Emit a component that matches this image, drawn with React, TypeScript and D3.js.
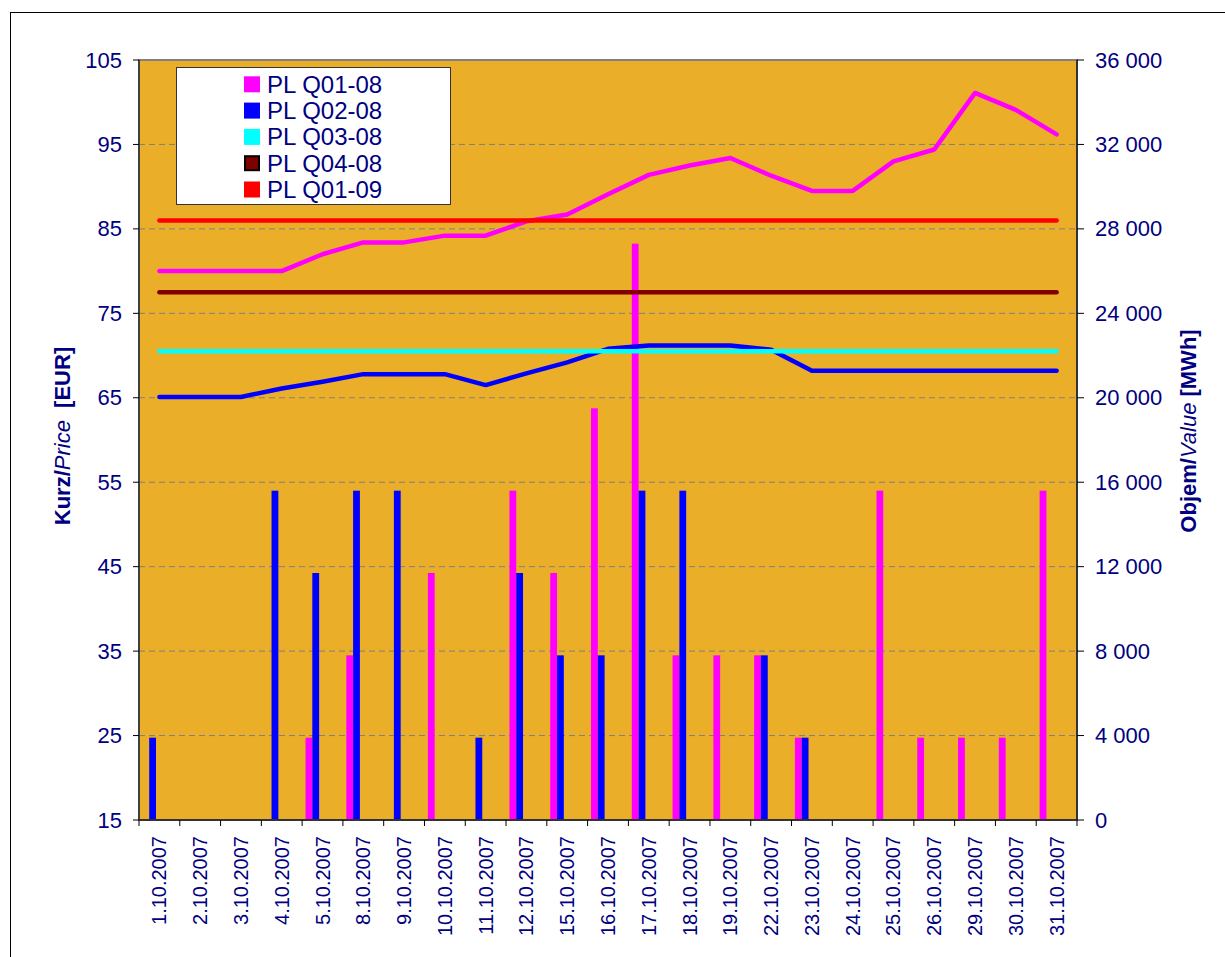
import React, { useRef, useEffect } from "react";
import * as d3 from "d3";

const dates = [
  "1.10.2007", "2.10.2007", "3.10.2007", "4.10.2007", "5.10.2007", "8.10.2007",
  "9.10.2007", "10.10.2007", "11.10.2007", "12.10.2007", "15.10.2007", "16.10.2007",
  "17.10.2007", "18.10.2007", "19.10.2007", "22.10.2007", "23.10.2007", "24.10.2007",
  "25.10.2007", "26.10.2007", "29.10.2007", "30.10.2007", "31.10.2007",
];

const seriesNames = ["PL Q01-08", "PL Q02-08", "PL Q03-08", "PL Q04-08", "PL Q01-09"];

// prices (EUR), left axis
const priceQ0108 = [80, 80, 80, 80, 82, 83.4, 83.4, 84.2, 84.2, 85.9, 86.7, 89.1, 91.4, 92.5, 93.4, 91.3, 89.5, 89.5, 93, 94.4, 101.1, 99.1, 96.2];
const priceQ0208 = [65.1, 65.1, 65.1, 66.1, 66.9, 67.8, 67.8, 67.8, 66.5, 67.9, 69.2, 70.8, 71.2, 71.2, 71.2, 70.7, 68.2, 68.2, 68.2, 68.2, 68.2, 68.2, 68.2];
const priceQ0308 = [70.5, 70.5, 70.5, 70.5, 70.5, 70.5, 70.5, 70.5, 70.5, 70.5, 70.5, 70.5, 70.5, 70.5, 70.5, 70.5, 70.5, 70.5, 70.5, 70.5, 70.5, 70.5, 70.5];
const priceQ0408 = [77.5, 77.5, 77.5, 77.5, 77.5, 77.5, 77.5, 77.5, 77.5, 77.5, 77.5, 77.5, 77.5, 77.5, 77.5, 77.5, 77.5, 77.5, 77.5, 77.5, 77.5, 77.5, 77.5];
const priceQ0109 = [86, 86, 86, 86, 86, 86, 86, 86, 86, 86, 86, 86, 86, 86, 86, 86, 86, 86, 86, 86, 86, 86, 86];

// volumes (MWh), right axis
const volumeQ0108 = [0, 0, 0, 0, 3900, 7800, 0, 11700, 0, 15600, 11700, 19500, 27300, 7800, 7800, 7800, 3900, 0, 15600, 3900, 3900, 3900, 15600];
const volumeQ0208 = [3900, 0, 0, 15600, 11700, 15600, 15600, 0, 3900, 11700, 7800, 7800, 15600, 15600, 0, 7800, 3900, 0, 0, 0, 0, 0, 0];

const leftTicks = [15, 25, 35, 45, 55, 65, 75, 85, 95, 105];
const rightTicks = [0, 4000, 8000, 12000, 16000, 20000, 24000, 28000, 32000, 36000];

const colors = ["#FF00FF", "#0000FF", "#00FFFF", "#800000", "#FF0000"];
const navy = "#000080";
const font = "Arial, 'Liberation Sans', sans-serif";

const App = () => {
  const svgRef = useRef(null);

  useEffect(() => {
    const svg = d3.select(svgRef.current);
    svg.selectAll("*").remove();

    const left = 139, right = 1077, top = 60, bottom = 820;

    const x = d3.scaleBand().domain(dates).range([left, right]).padding(0);
    const xSeries = d3
      .scaleBand()
      .domain(seriesNames)
      .range([0, x.bandwidth()])
      .paddingInner(0)
      .paddingOuter(0.5);
    const yL = d3.scaleLinear().domain([15, 105]).range([bottom, top]);
    const yR = d3.scaleLinear().domain([0, 36000]).range([bottom, top]);
    const fmt = d3.formatLocale({ decimal: ",", thousands: " ", grouping: [3], currency: ["", ""] }).format(",");

    // outer frame
    svg.append("rect")
      .attr("x", 10.5).attr("y", 12.5)
      .attr("width", 1240).attr("height", 980)
      .attr("fill", "#fff").attr("stroke", "#000").attr("stroke-width", 1);

    // plot area
    svg.append("rect")
      .attr("x", left).attr("y", top)
      .attr("width", right - left).attr("height", bottom - top)
      .attr("fill", "#EBAE29").attr("stroke", "#808080").attr("stroke-width", 2);

    // gridlines
    svg.append("g")
      .selectAll("line")
      .data(leftTicks.slice(1, -1))
      .join("line")
      .attr("x1", left).attr("x2", right)
      .attr("y1", (d) => yL(d)).attr("y2", (d) => yL(d))
      .attr("stroke", "#7f7f85").attr("stroke-width", 1)
      .attr("stroke-dasharray", "6,4");

    // bars
    const vols = [volumeQ0108, volumeQ0208];
    vols.forEach((vals, si) => {
      svg.append("g")
        .selectAll("rect")
        .data(vals.map((v, i) => ({ d: dates[i], v })).filter((p) => p.v > 0))
        .join("rect")
        .attr("x", (p) => x(p.d) + xSeries(seriesNames[si]))
        .attr("width", xSeries.bandwidth())
        .attr("y", (p) => yR(p.v))
        .attr("height", (p) => yR(0) - yR(p.v))
        .attr("fill", colors[si]);
    });

    // lines
    const prices = [priceQ0108, priceQ0208, priceQ0308, priceQ0408, priceQ0109];
    const line = d3
      .line()
      .x((d) => d[0])
      .y((d) => d[1]);
    prices.forEach((vals, si) => {
      svg.append("path")
        .attr("d", line(vals.map((v, i) => [x(dates[i]) + x.bandwidth() / 2, yL(v)])))
        .attr("fill", "none")
        .attr("stroke", colors[si])
        .attr("stroke-width", 4.5)
        .attr("stroke-linecap", "round")
        .attr("stroke-linejoin", "round");
    });

    // axes lines
    svg.append("line").attr("x1", left).attr("x2", left).attr("y1", top).attr("y2", bottom).attr("stroke", "#000");
    svg.append("line").attr("x1", right).attr("x2", right).attr("y1", top).attr("y2", bottom).attr("stroke", "#333").attr("stroke-width", 2);
    svg.append("line").attr("x1", left).attr("x2", right).attr("y1", bottom).attr("y2", bottom).attr("stroke", "#333").attr("stroke-width", 2);

    // left axis
    const gl = svg.append("g");
    gl.selectAll("line")
      .data(leftTicks)
      .join("line")
      .attr("x1", left - 6).attr("x2", left)
      .attr("y1", (d) => yL(d)).attr("y2", (d) => yL(d))
      .attr("stroke", "#000");
    gl.selectAll("text")
      .data(leftTicks)
      .join("text")
      .attr("x", 122).attr("y", (d) => yL(d))
      .attr("text-anchor", "end").attr("dominant-baseline", "central")
      .attr("font-family", font).attr("font-size", 22).attr("fill", navy)
      .text((d) => d);

    // right axis
    const gr = svg.append("g");
    gr.selectAll("line")
      .data(rightTicks)
      .join("line")
      .attr("x1", right).attr("x2", right + 7)
      .attr("y1", (d) => yR(d)).attr("y2", (d) => yR(d))
      .attr("stroke", "#000");
    gr.selectAll("text")
      .data(rightTicks)
      .join("text")
      .attr("x", 1095).attr("y", (d) => yR(d))
      .attr("dominant-baseline", "central")
      .attr("font-family", font).attr("font-size", 22).attr("fill", navy)
      .text((d) => fmt(d));

    // x axis
    const gx = svg.append("g");
    gx.selectAll("line")
      .data(d3.range(dates.length + 1))
      .join("line")
      .attr("x1", (i) => left + i * x.step()).attr("x2", (i) => left + i * x.step())
      .attr("y1", bottom).attr("y2", bottom + 6)
      .attr("stroke", "#000");
    gx.selectAll("text")
      .data(dates)
      .join("text")
      .attr("transform", (d) => `translate(${x(d) + x.bandwidth() / 2},836) rotate(-90)`)
      .attr("text-anchor", "end").attr("dominant-baseline", "central")
      .attr("font-family", font).attr("font-size", 20).attr("fill", navy)
      .text((d) => d);

    // axis titles
    const title = (cx, cy, parts) => {
      const t = svg.append("text")
        .attr("transform", `translate(${cx},${cy}) rotate(-90)`)
        .attr("text-anchor", "middle").attr("dominant-baseline", "central")
        .attr("font-family", font).attr("font-size", 22).attr("fill", navy)
        .attr("xml:space", "preserve");
      parts.forEach(([s, bold, italic]) => {
        t.append("tspan")
          .attr("font-weight", bold ? "bold" : "normal")
          .attr("font-style", italic ? "italic" : "normal")
          .text(s);
      });
    };
    title(62, 436, [["Kurz/", true, false], ["Price", false, true], ["  [EUR]", true, false]]);
    title(1188, 431, [["Objem/", true, false], ["Value", false, true], [" [MWh]", true, false]]);

    // legend
    const lg = svg.append("g");
    lg.append("rect")
      .attr("x", 176.5).attr("y", 67.5).attr("width", 274).attr("height", 137)
      .attr("fill", "#fff").attr("stroke", "#333").attr("stroke-width", 1);
    const rows = lg.selectAll("g")
      .data(seriesNames)
      .join("g")
      .attr("transform", (d, i) => `translate(0,${84.3 + i * 26.3})`);
    rows.append("rect")
      .attr("x", (d, i) => (i === 3 ? 245 : 244)).attr("y", (d, i) => (i === 3 ? -7 : -8))
      .attr("width", (d, i) => (i === 3 ? 14 : 16)).attr("height", (d, i) => (i === 3 ? 14 : 16))
      .attr("fill", (d, i) => colors[i])
      .attr("stroke", (d, i) => (i === 3 ? "#000" : "none"))
      .attr("stroke-width", 2);
    rows.append("text")
      .attr("x", 267).attr("y", 0)
      .attr("dominant-baseline", "central")
      .attr("font-family", font).attr("font-size", 24).attr("fill", navy)
      .text((d) => d);
  }, []);

  return (
    <svg
      ref={svgRef}
      width={1225}
      height={957}
      style={{ position: "absolute", left: 0, top: 0, background: "#fff" }}
    ></svg>
  );
};

export default App;
